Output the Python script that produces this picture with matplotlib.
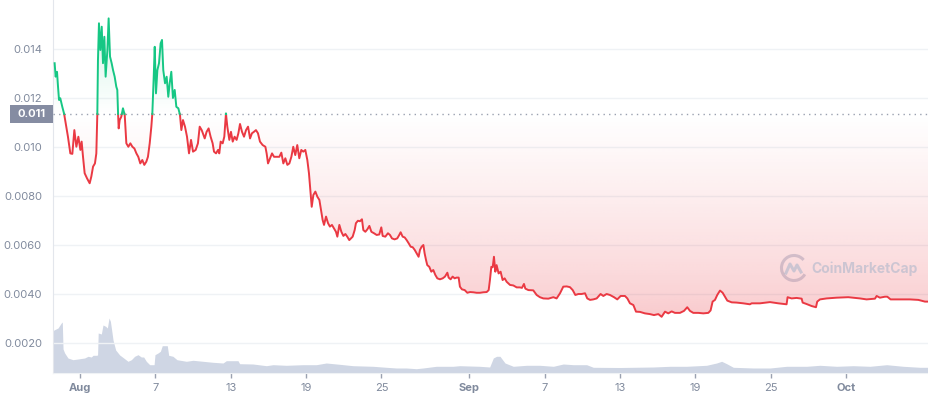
import numpy as np
import matplotlib
matplotlib.use("Agg")
from matplotlib import pyplot as plt
from matplotlib import transforms as mtransforms
from matplotlib.path import Path
from matplotlib.patches import PathPatch, Rectangle, Arc
from matplotlib.lines import Line2D

# price, days counted from 1 Aug (00:00)
days = [
    -2.02, -1.94, -1.83, -1.75, -1.67, -1.57, -1.41, -1.27, -1.14, -0.96, -0.77, -0.61, -0.45, -0.29, -0.13,
    0.03, 0.13, 0.24, 0.37, 0.56, 0.77, 0.90, 1.04, 1.19, 1.30, 1.38, 1.43, 1.51, 1.62, 1.73, 1.83, 1.94,
    2.04, 2.18, 2.28, 2.39, 2.52, 2.63, 2.76, 2.89, 2.97, 3.03, 3.08, 3.16, 3.29, 3.42, 3.56, 3.69, 3.85,
    4.01, 4.17, 4.33, 4.49, 4.64, 4.80, 4.96, 5.12, 5.28, 5.41, 5.55, 5.68, 5.76, 5.87, 5.95, 6.05, 6.16,
    6.29, 6.42, 6.53, 6.63, 6.77, 6.90, 7.03, 7.14, 7.27, 7.40, 7.54, 7.67, 7.83, 7.96, 8.07, 8.20, 8.36,
    8.52, 8.68, 8.84, 9.00, 9.21, 9.39, 9.53, 9.69,
    9.93, 10.08, 10.24, 10.40, 10.56, 10.67, 10.83, 10.99, 11.09, 11.20, 11.36, 11.49, 11.62, 11.73, 11.89,
    12.02, 12.16, 12.31, 12.47, 12.61, 12.74, 12.90, 13.06, 13.22, 13.38, 13.54, 13.69, 13.85, 14.01, 14.17,
    14.33, 14.54, 14.76, 14.86, 14.97, 15.13, 15.29, 15.45, 15.66, 15.87, 16.03, 16.19, 16.35, 16.51, 16.67,
    16.83, 16.98, 17.14, 17.30, 17.46, 17.62, 17.78, 17.94, 18.10, 18.23, 18.34, 18.45, 18.58, 18.74, 18.90,
    19.06, 19.19, 19.32, 19.43, 19.59, 19.75, 19.90, 20.06, 20.22, 20.38, 20.49, 20.65, 20.81, 20.97, 21.13,
    21.28, 21.44,
    21.71, 21.87, 21.97, 22.13, 22.29, 22.45, 22.56, 22.72, 22.88, 23.04, 23.20, 23.41, 23.62, 23.83, 23.99,
    24.10, 24.31, 24.52, 24.68, 24.84, 25.05, 25.26, 25.42, 25.53, 25.69, 25.85, 26.01, 26.17, 26.33, 26.49,
    26.65, 26.81, 26.96, 27.07, 27.20, 27.34, 27.44, 27.55, 27.65, 27.81, 27.97, 28.13, 28.29, 28.45, 28.66,
    28.88, 29.06, 29.25, 29.35, 29.51, 29.67, 29.83, 29.99, 30.15, 30.25, 30.41, 30.63, 30.84, 31.05, 31.32,
    31.58, 31.85, 32.11, 32.38, 32.54, 32.64, 32.75, 32.86, 32.96, 33.07, 33.17, 33.33, 33.49, 33.65, 33.81,
    33.97, 34.24, 34.50, 34.77, 35.03, 35.19, 35.35, 35.46, 35.70,
    36.09, 36.36, 36.62, 36.89, 37.29, 37.69, 37.95, 38.22, 38.48, 38.75, 39.01, 39.23, 39.44, 39.68, 39.94,
    40.21, 40.39, 40.61, 40.87, 41.14, 41.45, 41.67, 41.93, 42.20, 42.52, 42.78, 43.05, 43.39, 43.58, 43.79,
    44.06, 44.27, 44.59, 44.98, 45.38, 45.70, 46.05, 46.31, 46.58, 46.84, 47.11, 47.37, 47.77, 48.09, 48.35,
    48.57, 48.83, 49.23, 49.63, 50.03, 50.21, 50.37, 50.56, 50.74, 50.96,
    51.17, 51.35, 51.54, 51.89, 52.28, 52.81, 53.34, 53.48, 54.14, 54.94, 55.60, 56.26, 56.34, 56.66, 57.06,
    57.46, 57.54, 57.86, 58.25, 58.60, 58.70, 58.92, 59.45, 60.24, 61.17, 62.10, 62.63, 63.30, 63.43, 63.69,
    64.09, 64.28, 64.54, 65.29, 66.08, 66.75, 67.28, 67.60,
]
price = [
    0.01342, 0.01287, 0.01307, 0.01246, 0.01192, 0.01199, 0.01164, 0.01137, 0.01097, 0.01042, 0.00974, 0.00972, 0.01069, 0.01001, 0.01042,
    0.00988, 0.01022, 0.00960, 0.00893, 0.00872, 0.00852, 0.00879, 0.00920, 0.00933, 0.00974, 0.01137, 0.01355, 0.01505, 0.01396, 0.01491, 0.01342, 0.01450,
    0.01287, 0.01396, 0.01525, 0.01369, 0.01342, 0.01314, 0.01287, 0.01246, 0.01233, 0.01137, 0.01076, 0.01110, 0.01124, 0.01158, 0.01131, 0.01015, 0.01001,
    0.01015, 0.01001, 0.00994, 0.00974, 0.00960, 0.00933, 0.00947, 0.00927, 0.00940, 0.00960, 0.01015, 0.01083, 0.01137, 0.01287, 0.01409, 0.01219, 0.01314,
    0.01342, 0.01423, 0.01437, 0.01314, 0.01260, 0.01287, 0.01205, 0.01260, 0.01307, 0.01200, 0.01233, 0.01164, 0.01158, 0.01131, 0.01069, 0.01110, 0.01083,
    0.01042, 0.00974, 0.01029, 0.00981, 0.00988, 0.01015, 0.01083, 0.01069,
    0.01035, 0.01062, 0.01076, 0.01042, 0.01015, 0.00981, 0.00974, 0.00988, 0.00974, 0.01022, 0.01015, 0.01042, 0.01137, 0.01083, 0.01029,
    0.01062, 0.01022, 0.01042, 0.01029, 0.01056, 0.01094, 0.01062, 0.01042, 0.01069, 0.01083, 0.01035, 0.01056, 0.01062, 0.01069, 0.01056,
    0.01022, 0.01008, 0.01001, 0.00974, 0.00933, 0.00954, 0.00974, 0.00960, 0.00960, 0.00960, 0.00977, 0.00933, 0.00954, 0.00927, 0.00933,
    0.00960, 0.01001, 0.00967, 0.01008, 0.00954, 0.00988, 0.00981, 0.00988, 0.00947, 0.00893, 0.00824, 0.00756, 0.00804, 0.00818, 0.00797,
    0.00784, 0.00743, 0.00702, 0.00682, 0.00716, 0.00689, 0.00675, 0.00682, 0.00668, 0.00654, 0.00634, 0.00682, 0.00654, 0.00637, 0.00645,
    0.00634, 0.00620,
    0.00634, 0.00661, 0.00689, 0.00699, 0.00697, 0.00705, 0.00661, 0.00654, 0.00664, 0.00678, 0.00654, 0.00648, 0.00641, 0.00643, 0.00672,
    0.00637, 0.00634, 0.00648, 0.00641, 0.00627, 0.00623, 0.00627, 0.00641, 0.00652, 0.00634, 0.00631, 0.00620, 0.00607, 0.00593, 0.00591,
    0.00580, 0.00566, 0.00552, 0.00580, 0.00593, 0.00600, 0.00566, 0.00539, 0.00518, 0.00511, 0.00491, 0.00498, 0.00478, 0.00464, 0.00460,
    0.00464, 0.00471, 0.00487, 0.00467, 0.00460, 0.00471, 0.00464, 0.00467, 0.00467, 0.00430, 0.00419, 0.00416, 0.00405, 0.00408, 0.00407,
    0.00405, 0.00405, 0.00407, 0.00408, 0.00416, 0.00457, 0.00511, 0.00509, 0.00552, 0.00491, 0.00518, 0.00484, 0.00491, 0.00457, 0.00464,
    0.00450, 0.00437, 0.00435, 0.00427, 0.00427, 0.00425, 0.00441, 0.00422, 0.00416,
    0.00415, 0.00396, 0.00387, 0.00382, 0.00381, 0.00387, 0.00382, 0.00403, 0.00430, 0.00431, 0.00428, 0.00416, 0.00396, 0.00400, 0.00400,
    0.00403, 0.00382, 0.00376, 0.00378, 0.00382, 0.00400, 0.00392, 0.00400, 0.00396, 0.00387, 0.00378, 0.00392, 0.00392, 0.00382, 0.00362,
    0.00355, 0.00328, 0.00327, 0.00321, 0.00318, 0.00314, 0.00318, 0.00307, 0.00328, 0.00321, 0.00329, 0.00323, 0.00323, 0.00331, 0.00346,
    0.00331, 0.00323, 0.00323, 0.00321, 0.00323, 0.00333, 0.00369, 0.00376, 0.00396, 0.00414,
    0.00405, 0.00389, 0.00373, 0.00366, 0.00365, 0.00362, 0.00358, 0.00362, 0.00362, 0.00367, 0.00362, 0.00358, 0.00387, 0.00382, 0.00384,
    0.00381, 0.00365, 0.00359, 0.00351, 0.00346, 0.00369, 0.00378, 0.00382, 0.00385, 0.00387, 0.00382, 0.00378, 0.00381, 0.00392, 0.00385,
    0.00389, 0.00389, 0.00378, 0.00378, 0.00378, 0.00376, 0.00369, 0.00369,
]

# volume (no scale shown on the chart, relative units)
vol_days = [
    -2.15, -2.07, -1.75, -1.49, -1.41, -1.35, -1.22, -0.96, -0.56, -0.16, 0.37, 0.64, 0.90, 1.04, 1.30, 1.40,
    1.45, 1.70, 1.83, 2.04, 2.18, 2.31, 2.42, 2.52, 2.63, 2.84, 3.16, 3.48, 3.82, 4.09, 4.35, 4.62, 4.88,
    5.07, 5.28, 5.55, 5.90, 5.97, 6.21, 6.40, 6.55, 6.95, 7.06, 7.40, 7.72, 8.47, 9.00, 9.79, 10.59, 11.39,
    11.65, 12.58, 12.71, 13.77, 14.84, 15.37, 16.43, 17.75, 18.82, 19.61, 20.67, 21.74, 23.33, 24.39, 25.19,
    25.98, 26.78, 27.31, 28.37, 29.70, 30.23, 31.82, 32.62, 32.91, 33.17, 33.44, 33.84, 34.50, 35.56, 36.62,
    37.69, 38.48, 39.28, 40.34, 40.87, 42.99, 45.65, 46.97, 48.30, 49.89, 50.69, 51.09, 51.49, 52.02, 53.61,
    54.94, 56.26, 57.86, 58.92, 60.24, 61.57, 62.90, 64.23, 65.55, 66.88, 67.60,
]
volume = [
    42, 43, 45, 50, 51, 24, 20, 15, 13.3, 14, 15, 16.7, 16, 17.7, 17.7, 18,
    40, 39, 48, 46.7, 45, 55, 51.7, 43, 33, 23, 18, 15, 11.7, 13.3, 16.7, 18.3, 16,
    16, 11.7, 8.3, 8.3, 18.3, 20, 21.7, 27.3, 27.3, 17.7, 16.7, 13.3, 11.7, 12.7, 11.7, 10.7, 10,
    12.3, 12.3, 9.3, 9, 7.3, 8.3, 7.7, 8.3, 8.3, 10, 8.7, 7.3, 6.7, 5.7, 5,
    5, 4.3, 5, 6.7, 6.7, 7.3, 6.7, 6, 15, 16.7, 16.7, 10, 6.7, 7.7, 7.7,
    6.7, 9, 8.3, 8.3, 5.7, 5.5, 6, 6.7, 6.7, 7.7, 10, 11.7, 9.3, 5.7, 5,
    5, 6.7, 6.7, 7.7, 6.7, 7.3, 6.7, 8.3, 6.7, 5.7, 5.7,
]

base = 0.01135
base_label = "0.011"
y_ticks = [0.002, 0.004, 0.006, 0.008, 0.010, 0.012, 0.014]
y_labels = ["0.0020", "0.0040", "0.0060", "0.0080", "0.010", "0.012", "0.014"]
x_ticks = [0, 6, 12, 18, 24, 31, 37, 43, 49, 55, 61]
x_labels = ["Aug", "7", "13", "19", "25", "Sep", "7", "13", "19", "25", "Oct"]
month_labels = ["Aug", "Sep", "Oct"]

RED = "#ea3943"
GREEN = "#16c784"
GREY = "#808a9d"

plt.rcParams["font.family"] = ["Inter", "DejaVu Sans"]

fig = plt.figure(figsize=(9.29, 4.0), dpi=100)
ax = fig.add_axes([53 / 929, 27 / 400, 876 / 929, 373 / 400])
xlim = (-2.15, 67.6)
ylim = (0.000776, 0.016)

# volume underneath, on its own hidden scale
vax = ax.twinx()
vax.fill_between(vol_days, volume, 0, color="#cfd6e4", linewidth=0)
vax.set_ylim(0, 373)
vax.set_axis_off()
ax.set_zorder(vax.get_zorder() + 1)
ax.patch.set_visible(False)

x = np.array(days)
y = np.array(price)

# add the points where the line crosses the base price
xs, ys = [x[0]], [y[0]]
for i in range(1, len(x)):
    if (y[i - 1] - base) * (y[i] - base) < 0:
        t = (base - y[i - 1]) / (y[i] - y[i - 1])
        xs.append(x[i - 1] + t * (x[i] - x[i - 1]))
        ys.append(base)
    xs.append(x[i])
    ys.append(y[i])
xs = np.array(xs)
ys = np.array(ys)


def gradient_fill(mask, color, lo, hi, a_lo, a_hi, power):
    coll = ax.fill_between(xs, ys, base, where=mask, interpolate=True,
                           facecolor="none", edgecolor="none")
    paths = [p for p in coll.get_paths() if len(p.vertices)]
    clip = PathPatch(Path.make_compound_path(*paths), transform=ax.transData,
                     facecolor="none", edgecolor="none")
    ax.add_patch(clip)
    vals = np.linspace(lo, hi, 400)
    rgb = matplotlib.colors.to_rgb(color)
    img = np.zeros((400, 2, 4))
    img[..., :3] = rgb
    frac = np.clip((vals - lo) / (hi - lo), 0, 1)
    img[..., 3] = (a_lo + (a_hi - a_lo) * frac ** power)[:, None]
    im = ax.imshow(img, extent=[xlim[0], xlim[1], lo, hi], origin="lower",
                   aspect="auto", interpolation="bilinear", zorder=1)
    im.set_clip_path(clip)


# red shade below the base (stronger further down), green above
gradient_fill(ys <= base, RED, 0.0030, base, 0.28, 0.0, 0.75)
gradient_fill(ys >= base, GREEN, base, 0.0155, 0.0, 0.2, 1.0)

ax.plot(xs, np.where(ys <= base, ys, np.nan), color=RED, lw=1.4, zorder=4)
ax.plot(xs, np.where(ys >= base, ys, np.nan), color=GREEN, lw=1.4, zorder=4)

ax.axhline(base, color="#9aa1b0", lw=1, ls=(0, (1, 3)), zorder=3)

ax.set_xlim(*xlim)
ax.set_ylim(*ylim)
vax.set_xlim(*xlim)

ax.set_yticks(y_ticks)
ax.set_yticklabels(y_labels)
ax.set_xticks(x_ticks)
ax.set_xticklabels(x_labels)
ax.tick_params(axis="y", length=0, pad=8, labelsize=8, labelcolor=GREY)
ax.tick_params(axis="x", length=3.5, width=1, color="#9aa1b0", pad=4, labelsize=8, labelcolor=GREY)
for lab in ax.get_xticklabels():
    if lab.get_text() in month_labels:
        lab.set_fontweight("bold")
ax.grid(axis="y", color="#eff2f5", lw=1)
ax.set_axisbelow(True)
for side in ["top", "right"]:
    ax.spines[side].set_visible(False)
ax.spines["left"].set_color("#e3e6ec")
ax.spines["bottom"].set_color("#eff2f5")

# base price tag on the y axis
blend = mtransforms.blended_transform_factory(fig.transFigure, ax.transData)
ax.add_patch(Rectangle((10 / 929, base - 0.000367), 43 / 929, 0.000735, transform=blend,
                       facecolor="#858ca2", edgecolor="none", clip_on=False, zorder=5))
ax.text(31.5 / 929, base, base_label, transform=blend, ha="center", va="center",
        color="white", fontsize=8, fontweight="bold", clip_on=False, zorder=6)

# watermark
wm = "#9fb0c8"
fig.add_artist(Arc((7.94, 1.32), 0.25, 0.25, theta1=40, theta2=330, transform=fig.dpi_scale_trans,
                   color=wm, lw=2.2, alpha=0.5))
fig.add_artist(Line2D([7.86, 7.90, 7.94, 7.97, 8.01], [1.27, 1.36, 1.29, 1.35, 1.28],
                      transform=fig.dpi_scale_trans, color=wm, lw=2.2, alpha=0.5))
fig.text(811 / 929, 1 - 269 / 400, "CoinMarketCap", ha="left", va="center",
         fontsize=10, fontweight="bold", color=wm, alpha=0.5)

fig.savefig("out.png", dpi=100)
